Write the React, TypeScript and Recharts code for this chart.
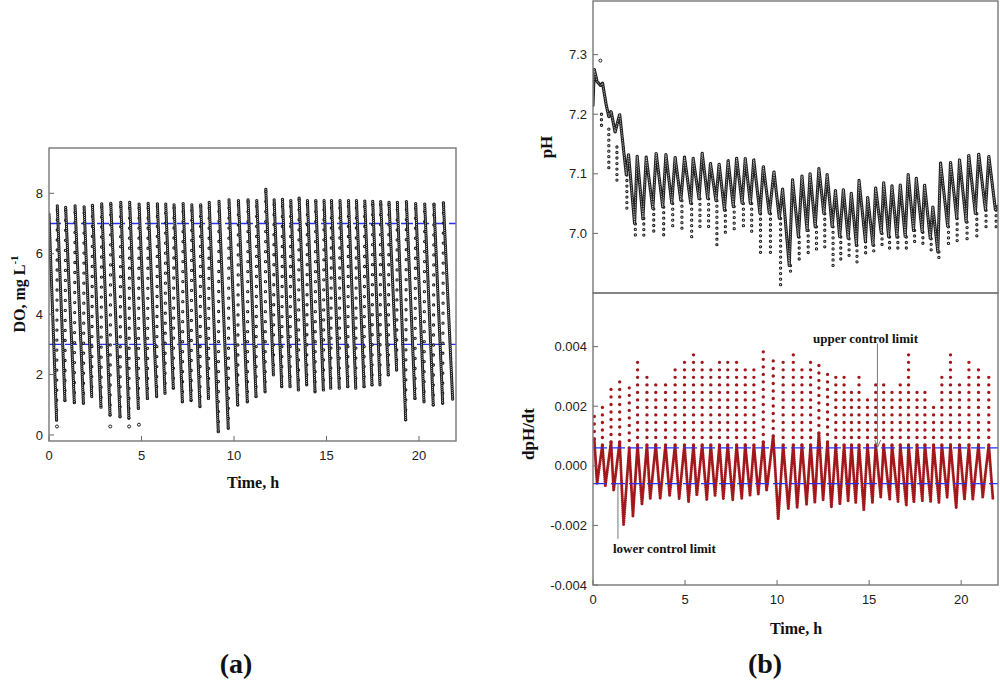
import React from 'react'
import { ComposedChart, Line, Scatter, XAxis, YAxis, ReferenceLine } from 'recharts'

// ---------- shared ----------
const timeTicks = [0, 5, 10, 15, 20]
const timeSpan = [0, 22]

// ---------- panel (a): DO ----------
const doTicks = [0, 2, 4, 6, 8]
const doLimits = [3, 7]
const doPeakTimes = [0, 0.45, 0.9, 1.41, 1.9, 2.35, 2.85, 3.34, 3.88, 4.36, 4.87, 5.36, 5.86, 6.31, 6.76, 7.25, 7.72, 8.2, 8.66, 9.19, 9.73, 10.24, 10.76, 11.23, 11.72, 12.17, 12.62, 13.07, 13.52, 13.97, 14.42, 14.87, 15.27, 15.73, 16.19, 16.62, 17.07, 17.5, 17.93, 18.38, 18.83, 19.32, 19.82, 20.31, 20.81, 21.32]
const doPeakValues = [7.3, 7.58, 7.53, 7.58, 7.55, 7.6, 7.65, 7.67, 7.7, 7.7, 7.64, 7.67, 7.65, 7.64, 7.62, 7.66, 7.62, 7.62, 7.7, 7.73, 7.78, 7.76, 7.78, 7.76, 8.13, 7.78, 7.8, 7.76, 7.84, 7.76, 7.76, 7.76, 7.76, 7.76, 7.76, 7.76, 7.74, 7.73, 7.72, 7.7, 7.7, 7.72, 7.66, 7.64, 7.64, 7.68]
const doTroughTimes = [0.41, 0.86, 1.37, 1.86, 2.31, 2.81, 3.3, 3.84, 4.32, 4.83, 5.32, 5.82, 6.27, 6.72, 7.21, 7.68, 8.16, 8.62, 9.15, 9.69, 10.2, 10.72, 11.19, 11.68, 12.13, 12.58, 13.03, 13.48, 13.93, 14.38, 14.83, 15.23, 15.69, 16.15, 16.58, 17.03, 17.46, 17.89, 18.34, 18.79, 19.28, 19.78, 20.27, 20.77, 21.28, 21.82]
const doTroughValues = [0.49, 1.14, 1.07, 1.05, 1.27, 0.92, 0.66, 0.6, 0.55, 0.88, 1.21, 1.27, 1.38, 1.55, 1.1, 1.14, 0.94, 1.21, 0.11, 0.22, 0.99, 1.1, 1.27, 1.43, 1.99, 1.6, 1.6, 1.49, 1.66, 1.43, 1.49, 1.55, 1.55, 1.6, 1.55, 1.6, 1.66, 1.66, 1.99, 2.15, 0.5, 1.21, 1.1, 0.99, 1.05, 1.16]
const doStrayTimes = [0.43, 3.31, 4.33, 4.86]
const doStrayValues = [0.28, 0.28, 0.28, 0.34]

// ---------- panel (b) top: pH ----------
const phTicks = [6.9, 7.0, 7.1, 7.2, 7.3]
const phLeadTimes = [0, 0.07, 0.22, 0.42, 0.52, 0.72, 0.86, 0.98, 1.2, 1.45]
const phLeadValues = [7.215, 7.275, 7.255, 7.248, 7.252, 7.215, 7.196, 7.205, 7.17, 7.2]
const phTroughTimes = [1.81, 2.26, 2.71, 3.25, 3.79, 4.28, 4.77, 5.31, 5.76, 6.23, 6.68, 7.14, 7.62, 8.1, 8.55, 9.07, 9.58, 10.12, 10.66, 11.16, 11.63, 12.07, 12.54, 12.99, 13.4, 13.86, 14.31, 14.8, 15.21, 15.66, 16.06, 16.51, 16.96, 17.41, 17.88, 18.32, 18.73, 19.27, 19.76, 20.27, 20.77, 21.32, 21.86]
const phTroughValues = [7.098, 7.016, 7.025, 7.041, 7.044, 7.05, 7.055, 7.05, 7.058, 7.058, 7.055, 7.039, 7.045, 7.05, 7.05, 7.033, 7.033, 7.025, 6.946, 6.994, 7.005, 7.011, 7.033, 7.011, 6.994, 6.991, 6.98, 6.986, 6.98, 7.0, 6.994, 6.994, 6.994, 7.005, 7.002, 6.991, 6.969, 7.011, 7.025, 7.019, 7.033, 7.039, 7.039]
const phPeakTimes = [1.93, 2.4, 2.89, 3.43, 3.96, 4.46, 4.97, 5.44, 5.93, 6.38, 6.85, 7.34, 7.8, 8.27, 8.73, 9.25, 9.83, 10.3, 10.84, 11.35, 11.79, 12.27, 12.72, 13.17, 13.6, 14.03, 14.45, 14.92, 15.35, 15.79, 16.24, 16.69, 17.12, 17.56, 18.01, 18.46, 18.88, 19.42, 19.91, 20.41, 20.95, 21.5, 21.98]
const phPeakValues = [7.133, 7.13, 7.128, 7.135, 7.133, 7.128, 7.128, 7.126, 7.135, 7.118, 7.117, 7.122, 7.127, 7.126, 7.124, 7.113, 7.104, 7.075, 7.09, 7.097, 7.101, 7.109, 7.099, 7.072, 7.074, 7.068, 7.089, 7.061, 7.077, 7.086, 7.08, 7.082, 7.099, 7.093, 7.082, 7.045, 7.118, 7.12, 7.124, 7.132, 7.134, 7.13, 7.045]
const phDipTimes = [1.84, 2.3, 2.76, 3.3, 3.84, 4.33, 4.83, 5.36, 5.81, 6.28, 6.73, 7.19, 7.67, 8.17, 8.62, 9.1, 9.64, 10.19, 10.73, 11.2, 11.69, 12.14, 12.59, 13.04, 13.46, 13.91, 14.34, 14.81, 15.25, 15.7, 16.11, 16.56, 17.02, 17.47, 17.92, 18.37, 18.79, 19.31, 19.78, 20.32, 20.85, 21.35, 21.9]
const phDipLows = [7.039, 6.997, 6.997, 7.0, 6.997, 7.005, 7.005, 6.988, 7.005, 7.005, 6.974, 7.0, 7.005, 7.005, 6.997, 6.96, 6.963, 6.91, 6.928, 6.952, 6.966, 6.968, 6.977, 6.944, 6.952, 6.963, 6.946, 6.963, 6.969, 6.977, 6.974, 6.974, 6.974, 6.983, 6.983, 6.966, 6.955, 6.98, 6.988, 6.983, 6.994, 7.005, 7.01]
const phEarlyTimes = [0.46, 0.86, 1.3]
const phEarlyTops = [7.2, 7.175, 7.145]
const phEarlyLows = [7.18, 7.106, 7.086]
const phStrayTimes = [0.4]
const phStrayValues = [7.29]

// ---------- panel (b) bottom: dpH/dt ----------
const dpTicks = [-0.004, -0.002, 0, 0.002, 0.004]
const dpLimits = [-0.0006, 0.0006]
const dpSpikeTimes = [0.07, 0.51, 0.98, 1.45, 1.97, 2.42, 2.93, 3.41, 3.94, 4.46, 4.97, 5.46, 5.93, 6.4, 6.87, 7.32, 7.8, 8.27, 8.74, 9.25, 9.79, 10.33, 10.88, 11.35, 11.82, 12.27, 12.74, 13.19, 13.64, 14.04, 14.45, 14.91, 15.36, 15.79, 16.24, 16.69, 17.14, 17.6, 18.03, 18.5, 18.95, 19.42, 19.91, 20.42, 20.94, 21.5]
const dpSpikePeaks = [0.0019, 0.00207, 0.00259, 0.00296, 0.00262, 0.00357, 0.00307, 0.00281, 0.00293, 0.00329, 0.00357, 0.00377, 0.00355, 0.00346, 0.00348, 0.00355, 0.00352, 0.00333, 0.00324, 0.00388, 0.00369, 0.00369, 0.00385, 0.00344, 0.00363, 0.00354, 0.00326, 0.00304, 0.00299, 0.0027, 0.00302, 0.00237, 0.00285, 0.00285, 0.0027, 0.00281, 0.00376, 0.00262, 0.00257, 0.00207, 0.00304, 0.00388, 0.00296, 0.00348, 0.00329, 0.00322]
const dpBandTops = [0.0009, 0.0007, 0.0008, 0.0008, 0.0006, 0.0007, 0.0007, 0.0007, 0.0007, 0.0007, 0.0007, 0.0007, 0.0007, 0.0007, 0.0007, 0.0007, 0.0007, 0.0007, 0.0007, 0.0008, 0.001, 0.0007, 0.0007, 0.0007, 0.0007, 0.0011, 0.0008, 0.0007, 0.0007, 0.0007, 0.0007, 0.0007, 0.0007, 0.0007, 0.0007, 0.0007, 0.0007, 0.0007, 0.0007, 0.0007, 0.0007, 0.0007, 0.0007, 0.0007, 0.0007, 0.0007]
const dpTroughTimes = [0.22, 0.67, 1.12, 1.66, 2.17, 2.66, 3.11, 3.65, 4.16, 4.68, 5.19, 5.64, 6.18, 6.63, 7.08, 7.59, 8.08, 8.53, 8.98, 9.43, 10.06, 10.61, 11.09, 11.6, 12.05, 12.5, 12.95, 13.41, 13.86, 14.27, 14.71, 15.18, 15.63, 16.12, 16.57, 17.02, 17.43, 17.89, 18.34, 18.79, 19.24, 19.73, 20.18, 20.63, 21.17, 21.72]
const dpTroughValues = [-0.0006, -0.00067, -0.00084, -0.002, -0.0017, -0.0013, -0.0011, -0.0011, -0.001, -0.0011, -0.0012, -0.001, -0.00114, -0.001, -0.0011, -0.00114, -0.0011, -0.001, -0.00095, -0.00084, -0.0018, -0.00145, -0.0014, -0.0013, -0.00123, -0.00114, -0.0014, -0.0013, -0.00119, -0.00123, -0.00147, -0.00123, -0.00106, -0.00114, -0.0012, -0.00134, -0.00123, -0.00117, -0.0012, -0.00123, -0.00106, -0.00142, -0.00114, -0.00112, -0.00106, -0.0011]

type Pt = { t: number; v: number | null }
const seg = (t0: number, v0: number, t1: number, v1: number): Pt[] => [
  { t: t0, v: v0 },
  { t: t1, v: v1 },
  { t: t1, v: null },
]
const level = (y: number): Pt[] => [
  { t: timeSpan[0], v: y },
  { t: timeSpan[1], v: y },
]

const doDescent = doPeakTimes.flatMap((t, i) => seg(t, doPeakValues[i], doTroughTimes[i], doTroughValues[i]))
const doRise = doTroughTimes
  .slice(0, -1)
  .flatMap((t, i) => seg(t, doTroughValues[i], doPeakTimes[i + 1], doPeakValues[i + 1]))
const doStray = doStrayTimes.map((t, i) => ({ t, v: doStrayValues[i] }))

const phWave: Pt[] = [
  ...phLeadTimes.map((t, i) => ({ t, v: phLeadValues[i] })),
  ...phTroughTimes.flatMap((t, i) => [
    { t, v: phTroughValues[i] },
    { t: phPeakTimes[i], v: phPeakValues[i] },
  ]),
]
const phDips = [
  ...phEarlyTimes.flatMap((t, i) => seg(t, phEarlyTops[i], t, phEarlyLows[i])),
  ...phDipTimes.flatMap((t, i) => seg(t, phTroughValues[i], t, phDipLows[i])),
]
const phStray = phStrayTimes.map((t, i) => ({ t, v: phStrayValues[i] }))

const dpBand: Pt[] = dpSpikeTimes.flatMap((t, i) => [
  { t, v: dpBandTops[i] },
  { t: dpTroughTimes[i], v: dpTroughValues[i] },
])
const dpSpikes = dpSpikeTimes.flatMap((t, i) => seg(t, dpBandTops[i], t, dpSpikePeaks[i]))

// ---------- layout ----------
const A = { left: 49, top: 148, right: 456, bottom: 441 }
const PH = { left: 593, top: 1, right: 998, bottom: 293 }
const DP = { left: 593, top: 293, right: 998, bottom: 585 }

const tickFont = { fontSize: 13, fill: '#222', fontFamily: '"Liberation Sans", Arial, sans-serif' }
const serif = '"Liberation Serif", "Times New Roman", serif'
const BLUE = '#2233ff'
const RED = '#a3171b'
const INK = '#1c1c1c'

// dotted line drawn as a row of dots; with inner > 0 a white row on top makes them open rings
const dotLine = (key: string, data: Pt[], gap: number, color = INK, outer = 3.3, inner = 1.1) => {
  const common = {
    data,
    dataKey: 'v',
    type: 'linear' as const,
    strokeDasharray: `0.01 ${gap}`,
    strokeLinecap: 'round' as const,
    dot: false,
    activeDot: false,
    connectNulls: false,
    isAnimationActive: false,
  }
  const rows = [<Line key={key + '-o'} {...common} stroke={color} strokeWidth={outer} />]
  if (inner > 0) rows.push(<Line key={key + '-i'} {...common} stroke="#fff" strokeWidth={inner} />)
  return rows
}

const limitLine = (key: string, y: number, dash: string) => (
  <Line
    key={key}
    data={level(y)}
    dataKey="v"
    type="linear"
    stroke={BLUE}
    strokeWidth={1.3}
    strokeDasharray={dash}
    dot={false}
    activeDot={false}
    isAnimationActive={false}
  />
)

const ring = (props: any) => (
  <circle cx={props.cx} cy={props.cy} r={1.5} fill="#fff" stroke={INK} strokeWidth={1} />
)

export default function App() {
  return (
    <div style={{ position: 'absolute', left: 0, top: 0, width: 1000, height: 680, background: '#fff', overflow: 'hidden' }}>
      {/* (a) DO */}
      <div style={{ position: 'absolute', left: 0, top: 0 }}>
        <ComposedChart
          width={470}
          height={480}
          margin={{ top: A.top, right: 470 - A.right, bottom: 480 - A.bottom - 30, left: 0 }}
        >
          <XAxis
            dataKey="t"
            type="number"
            domain={timeSpan}
            ticks={timeTicks}
            allowDataOverflow
            height={30}
            axisLine={false}
            tickSize={-5}
            tickMargin={15}
            tickLine={{ stroke: '#666' }}
            tick={tickFont}
          />
          <YAxis
            type="number"
            domain={[-0.2, 9.5]}
            ticks={doTicks}
            allowDataOverflow
            width={A.left}
            axisLine={false}
            tickSize={-5}
            tickMargin={11}
            tickLine={{ stroke: '#666' }}
            tick={tickFont}
          />
          {doLimits.map((y) => limitLine('do-lim-' + y, y, '12 4'))}
          {dotLine('do-rise', doRise, 10)}
          {dotLine('do-fall', doDescent, 2.1, INK, 3.3, 1.0)}
          <Scatter data={doStray} dataKey="v" shape={ring} isAnimationActive={false} />
        </ComposedChart>
      </div>

      {/* (b) pH */}
      <div style={{ position: 'absolute', left: 530, top: 0 }}>
        <ComposedChart
          width={470}
          height={300}
          margin={{ top: PH.top, right: 1000 - PH.right, bottom: 300 - PH.bottom - 1, left: 0 }}
        >
          <XAxis
            dataKey="t"
            type="number"
            domain={timeSpan}
            ticks={timeTicks}
            allowDataOverflow
            height={1}
            axisLine={false}
            tickSize={-5}
            tickLine={{ stroke: '#666' }}
            tick={false}
          />
          <YAxis
            type="number"
            domain={[6.9, 7.39]}
            ticks={phTicks}
            allowDataOverflow
            width={PH.left - 530}
            axisLine={false}
            tickSize={-5}
            tickMargin={11}
            tickLine={{ stroke: '#666' }}
            tick={tickFont}
            tickFormatter={(v: number) => v.toFixed(1)}
          />
          {dotLine('ph-dip', phDips, 5.5)}
          {dotLine('ph-wave', phWave, 1.7, INK, 3.3, 0.8)}
          <Scatter data={phStray} dataKey="v" shape={ring} isAnimationActive={false} />
        </ComposedChart>
      </div>

      {/* (b) dpH/dt */}
      <div style={{ position: 'absolute', left: 530, top: 280 }}>
        <ComposedChart
          width={470}
          height={340}
          margin={{ top: DP.top - 280, right: 1000 - DP.right, bottom: 340 - (DP.bottom - 280) - 30, left: 0 }}
        >
          <XAxis
            dataKey="t"
            type="number"
            domain={timeSpan}
            ticks={timeTicks}
            allowDataOverflow
            height={30}
            axisLine={false}
            tickSize={-5}
            tickMargin={15}
            tickLine={{ stroke: '#666' }}
            tick={tickFont}
          />
          <YAxis
            type="number"
            domain={[-0.004, 0.0058]}
            ticks={dpTicks}
            allowDataOverflow
            width={DP.left - 530}
            axisLine={false}
            tickSize={-5}
            tickMargin={11}
            tickLine={{ stroke: '#666' }}
            tick={tickFont}
            tickFormatter={(v: number) => v.toFixed(3)}
          />
          {dotLine('dp-spike', dpSpikes, 7.5, RED, 3.4, 0)}
          {dotLine('dp-band', dpBand, 2, RED, 3.0, 0)}
          {dpLimits.map((y) => limitLine('dp-lim-' + y, y, '14 4'))}
          <ReferenceLine
            segment={[{ x: 15.45, y: 0.0041 }, { x: 15.45, y: 0.00072 }]}
            stroke="#777"
            strokeWidth={1}
          />
          <ReferenceLine
            segment={[{ x: 1.355, y: -0.00058 }, { x: 1.355, y: -0.00245 }]}
            stroke="#777"
            strokeWidth={1}
          />
        </ComposedChart>
      </div>

      {/* frames and text */}
      <svg width={1000} height={680} style={{ position: 'absolute', left: 0, top: 0, pointerEvents: 'none' }}>
        {[A, PH, DP].map((r, i) => (
          <rect
            key={i}
            x={r.left}
            y={r.top}
            width={r.right - r.left}
            height={r.bottom - r.top}
            fill="none"
            stroke="#777"
            strokeWidth={1.4}
          />
        ))}
        <path d="M874.7,440 L877.7,447 L880.7,440" fill="none" stroke="#777" strokeWidth={1} />
        <g fontFamily={serif} fontWeight="bold" fill="#111">
          <text transform="translate(25,294) rotate(-90)" textAnchor="middle" fontSize={16}>
            DO, mg L
            <tspan fontSize={11} dy={-7}>
              -1
            </tspan>
          </text>
          <text x={253} y={488} textAnchor="middle" fontSize={16}>
            Time, h
          </text>
          <text x={236} y={673} textAnchor="middle" fontSize={28}>
            (a)
          </text>
          <text transform="translate(552,147) rotate(-90)" textAnchor="middle" fontSize={17}>
            pH
          </text>
          <text transform="translate(534,434) rotate(-90)" textAnchor="middle" fontSize={17}>
            dpH/dt
          </text>
          <text x={796} y={634} textAnchor="middle" fontSize={16}>
            Time, h
          </text>
          <text x={765} y={673} textAnchor="middle" fontSize={28}>
            (b)
          </text>
          <text x={813} y={343} fontSize={13}>
            upper control limit
          </text>
          <text x={613} y={553} fontSize={13}>
            lower control limit
          </text>
        </g>
      </svg>
    </div>
  )
}
